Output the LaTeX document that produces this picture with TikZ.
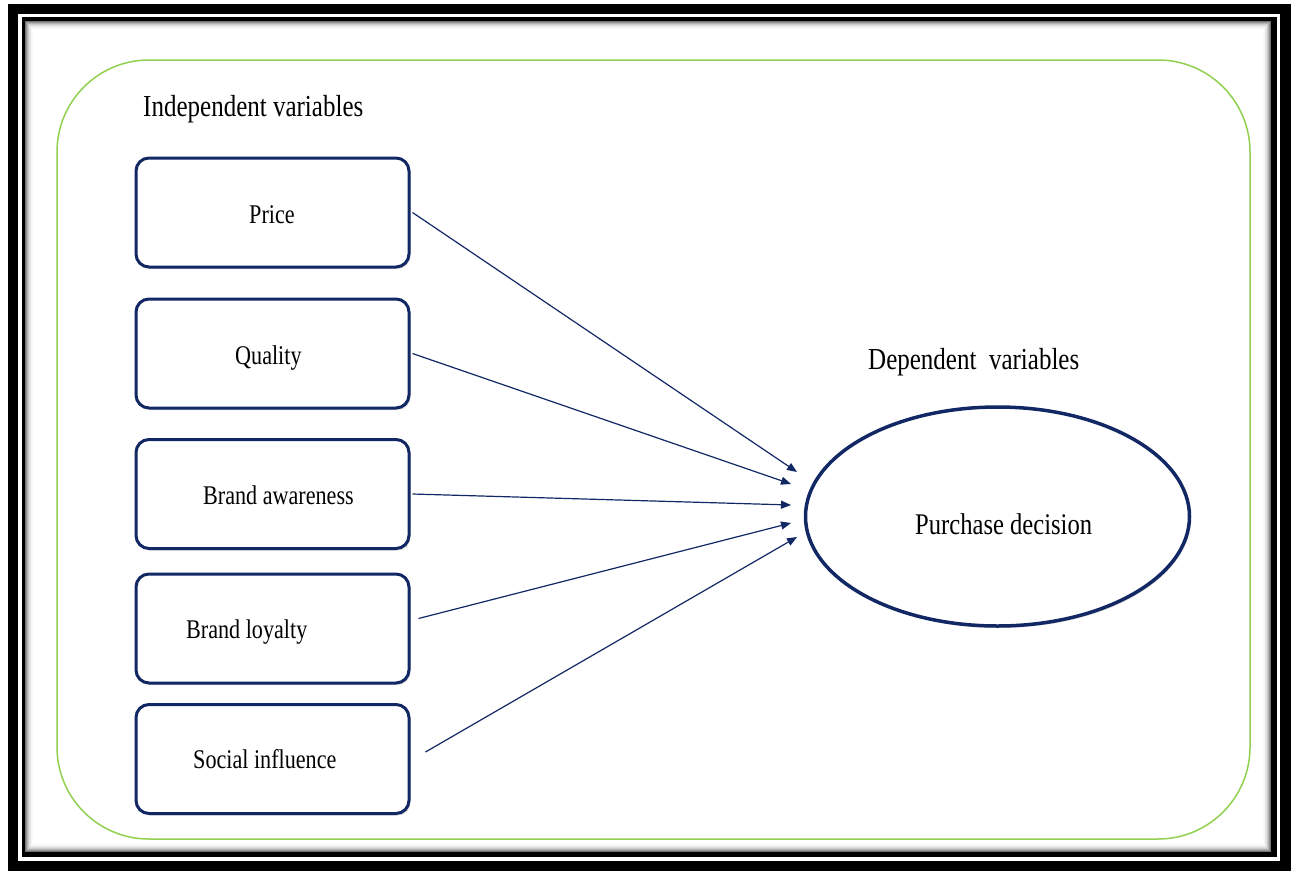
\documentclass[tikz,border=0pt]{standalone}
\usepackage{fontspec}
\setmainfont{Liberation Serif}
\newfontfamily\narrowserif[FakeStretch=0.82]{Liberation Serif}
\usetikzlibrary{arrows.meta,shapes.geometric,shadows}
\definecolor{navy}{RGB}{18,40,100}
\definecolor{leafgreen}{RGB}{146,208,80}
\begin{document}
\begin{tikzpicture}[x=1pt,y=-1pt,
  varbox/.style={draw=navy, line width=3pt, rounded corners=13pt, fill=white,
    minimum width=273pt, minimum height=109pt, inner sep=0pt,
    drop shadow={shadow xshift=1.5pt, shadow yshift=-2pt, opacity=0.3}},
  outcome/.style={ellipse, draw=navy, line width=3.5pt, fill=white,
    minimum width=384pt, minimum height=219pt, inner sep=0pt,
    drop shadow={shadow xshift=1.5pt, shadow yshift=-2pt, opacity=0.3}},
  boxlabel/.style={anchor=base west, inner sep=0pt,
    font=\narrowserif\fontsize{27}{30}\selectfont},
  heading/.style={anchor=base west, inner sep=0pt,
    font=\narrowserif\fontsize{30.5}{34}\selectfont},
  biglabel/.style={anchor=base west, inner sep=0pt,
    font=\narrowserif\fontsize{30}{34}\selectfont},
  link/.style={draw=navy, line width=1.2pt,
    -{Triangle[length=10pt,width=8pt]}}
]
\useasboundingbox (0,0) rectangle (1291,871);

% double black page frame
\fill[black] (8,4) rectangle (1291,871);
\fill[white] (18,14) rectangle (1280,861);
\fill[black] (22,17) rectangle (1277,857);
\fill[white] (25,21) rectangle (1271,852);
% soft inner shade along the frame
\foreach \i/\c in {0.5/55,1.5/42,2.5/30,3.5/20,4.5/13,5.5/8,6.5/4,7.5/2}{
  \draw[line width=1pt, black!\c] (25+\i,21+\i) rectangle (1271-\i,852-\i);
}

% rounded green panel
\draw[leafgreen, line width=1.5pt, rounded corners=92pt] (57,60) rectangle (1250,839);

% headings
\node[heading] (indep) at (143,116) {Independent variables};
\node[heading] (dep) at (868,369) {Dependent\ \ variables};

% independent variables
\node[varbox] (price)   at (272.5,212.5) {};
\node[varbox] (quality) at (272.5,353.5) {};
\node[varbox] (aware)   at (272.5,494) {};
\node[varbox] (loyal)   at (272.5,628.5) {};
\node[varbox] (social)  at (272.5,759) {};

\node[boxlabel] (priceT)   at (249,223) {Price};
\node[boxlabel] (qualityT) at (235,364) {Quality};
\node[boxlabel] (awareT)   at (203,504) {Brand awareness};
\node[boxlabel] (loyalT)   at (186,638) {Brand loyalty};
\node[boxlabel] (socialT)  at (193,768) {Social influence};

% dependent variable
\node[outcome] (purchase) at (997.5,516.5) {};
\node[biglabel] (purchaseT) at (915,534) {Purchase decision};

% arrow tips stop short of the ellipse
\coordinate (tip1) at (797,472);
\coordinate (tip2) at (791,484);
\coordinate (tip3) at (791,505);
\coordinate (tip4) at (791,523);
\coordinate (tip5) at (797,537);

\draw[link] ([xshift=2pt]price.east) -- (tip1);
\draw[link] ([xshift=2pt]quality.east) -- (tip2);
\draw[link] ([xshift=2pt]aware.east) -- (tip3);
\draw[link] ([shift={(8,-10)}]loyal.east) -- (tip4);
\draw[link] ([shift={(15,-7)}]social.east) -- (tip5);
\end{tikzpicture}
\end{document}
